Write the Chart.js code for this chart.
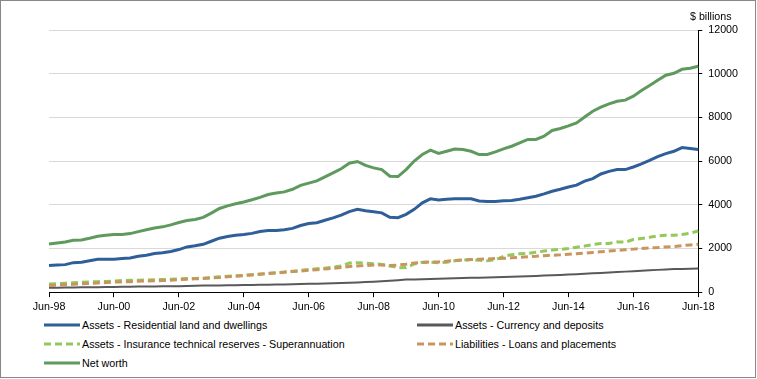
<!DOCTYPE html>
<html>
<head>
<meta charset="utf-8">
<script src="https://cdn.jsdelivr.net/npm/chart.js@4"></script>
<style>
  body { margin: 0; background: #fff; font-family: "Liberation Sans", Arial, sans-serif; }
  #frame { position: relative; width: 756px; height: 378px; border: 1px solid #878787; box-sizing: border-box; background: #fff; overflow: hidden; }
  #chartBox { position: absolute; left: -1px; top: -1px; width: 757px; height: 318px; }
  #units { position: absolute; left: 689px; top: 9px; font-size: 10.7px; color: #000; }
  #legend { position: absolute; left: 0; top: 317px; width: 756px; font-size: 10.7px; color: #000; }
  .item { position: absolute; height: 14px; line-height: 14px; white-space: nowrap; }
  .item svg { position: absolute; left: 0; top: 5px; }
  .item span { position: absolute; left: 38px; top: 0; }
</style>
</head>
<body>
<div id="frame">
  <div id="chartBox"><canvas id="wealthChart"></canvas></div>
  <div id="units">$ billions</div>
  <div id="legend"></div>
</div>
<script>
// quarterly, Jun-98 .. Jun-18 ($ billions)
const quarters = [];
const months = ['Mar', 'Jun', 'Sep', 'Dec'];
for (let yr = 1998; yr <= 2018; yr++) {
    months.forEach(function(m, q) {
        if ((yr === 1998 && q < 1) || (yr === 2018 && q > 1)) return;
        quarters.push(m + '-' + String(yr).slice(2));
    });
}

const residential = [
    1220, 1240, 1260, 1350, 1370, 1440, 1510, 1510, 1510, 1540,
    1560, 1640, 1690, 1770, 1800, 1860, 1950, 2070, 2120, 2190,
    2330, 2470, 2550, 2600, 2640, 2690, 2780, 2820, 2820, 2860,
    2920, 3050, 3140, 3180, 3290, 3400, 3530, 3690, 3790, 3730,
    3680, 3630, 3430, 3410, 3560, 3790, 4090, 4270, 4220, 4250,
    4270, 4270, 4270, 4170, 4150, 4150, 4180, 4200, 4250, 4320,
    4390, 4500, 4620, 4710, 4810, 4900, 5080, 5200, 5410, 5530,
    5610, 5610, 5730, 5870, 6030, 6200, 6340, 6450, 6620, 6580,
    6530
];
const currency = [
    200, 205, 210, 215, 220, 225, 230, 235, 240, 245,
    250, 255, 260, 262, 265, 270, 275, 280, 290, 300,
    305, 310, 315, 320, 325, 330, 335, 340, 345, 350,
    360, 370, 380, 390, 400, 410, 420, 430, 445, 460,
    475, 495, 520, 550, 575, 585, 595, 605, 615, 625,
    635, 645, 655, 665, 675, 685, 695, 705, 715, 730,
    745, 760, 775, 790, 805, 820, 840, 860, 880, 900,
    920, 940, 960, 980, 1000, 1020, 1040, 1055, 1065, 1075,
    1080
];
const superannuation = [
    370, 390, 410, 430, 450, 470, 480, 490, 510, 530,
    540, 550, 560, 570, 580, 590, 610, 620, 630, 640,
    670, 700, 730, 750, 770, 800, 830, 860, 890, 920,
    960, 1000, 1040, 1070, 1100, 1140, 1200, 1330, 1350, 1330,
    1300, 1270, 1200, 1120, 1130, 1290, 1370, 1370, 1350, 1370,
    1440, 1470, 1490, 1460, 1440, 1480, 1640, 1710, 1760, 1770,
    1830, 1880, 1930, 1960, 2000, 2060, 2110, 2180, 2230, 2230,
    2300, 2290, 2410, 2460, 2510, 2580, 2600, 2600, 2640, 2700,
    2800
];
const liabilities = [
    300, 320, 340, 360, 380, 400, 420, 440, 460, 470,
    480, 500, 510, 520, 530, 550, 570, 590, 610, 630,
    650, 670, 700, 730, 760, 790, 820, 850, 880, 910,
    940, 970, 1000, 1030, 1060, 1090, 1130, 1170, 1200, 1220,
    1240, 1240, 1220, 1240, 1280, 1330, 1360, 1380, 1380, 1420,
    1450, 1470, 1490, 1510, 1520, 1540, 1550, 1570, 1590, 1620,
    1640, 1670, 1690, 1710, 1740, 1760, 1790, 1820, 1850, 1880,
    1910, 1940, 1970, 2000, 2020, 2040, 2070, 2090, 2130, 2160,
    2190
];
const netWorth = [
    2200, 2250, 2300, 2380, 2390, 2470, 2560, 2600, 2640, 2640,
    2680, 2770, 2860, 2940, 2990, 3080, 3190, 3280, 3330, 3420,
    3620, 3830, 3950, 4050, 4130, 4230, 4340, 4470, 4540, 4590,
    4710, 4890, 4990, 5090, 5280, 5460, 5650, 5900, 5980, 5800,
    5690, 5610, 5310, 5290, 5610, 6000, 6300, 6500, 6350, 6450,
    6550, 6530, 6450, 6300, 6300, 6420, 6560, 6680, 6830, 6990,
    6990, 7140, 7400, 7490, 7610, 7750, 8020, 8280, 8470, 8620,
    8740, 8790, 8970, 9230, 9460, 9700, 9930, 10020, 10200, 10250,
    10340
];
const yTicks = [0, 2000, 4000, 6000, 8000, 10000, 12000];

const seriesNames = [
    'Assets - Residential land and dwellings',
    'Assets - Currency and deposits',
    'Assets - Insurance technical reserves - Superannuation',
    'Liabilities - Loans and placements',
    'Net worth'
];
const seriesColors = ['#2f5f98', '#595959', '#92c95a', '#c9955e', '#5e9a5e'];
const seriesWidths = [3, 2, 3, 3, 3];
const seriesDash = [[], [], [7, 4], [7, 4], []];
const seriesData = [residential, currency, superannuation, liabilities, netWorth];
const drawOrder = [3, 3, 2, 1, 0];

const FONT = { family: '"Liberation Sans", Arial, sans-serif', size: 10.7 };

const datasets = seriesNames.map(function(name, i) {
    return {
        label: name,
        data: seriesData[i],
        borderColor: seriesColors[i],
        backgroundColor: seriesColors[i],
        borderWidth: seriesWidths[i],
        borderDash: seriesDash[i],
        pointRadius: 0,
        tension: 0,
        fill: false,
        order: drawOrder[i]
    };
});

const ctx = document.getElementById('wealthChart').getContext('2d');
new Chart(ctx, {
    type: 'line',
    data: { labels: quarters, datasets: datasets },
    options: {
        responsive: true,
        maintainAspectRatio: false,
        animation: false,
        layout: { padding: { left: 49, right: 13, top: 30, bottom: 2 } },
        plugins: { legend: { display: false }, tooltip: { enabled: false } },
        scales: {
            x: {
                type: 'category',
                offset: false,
                grid: {
                    drawOnChartArea: false,
                    tickLength: 5,
                    tickColor: function(c) { return c.index % 8 === 0 ? '#000' : 'rgba(0,0,0,0)'; }
                },
                border: { color: '#000', width: 1 },
                ticks: {
                    autoSkip: false,
                    maxRotation: 0,
                    minRotation: 0,
                    padding: 3,
                    color: '#000',
                    font: FONT,
                    callback: function(v, i) { return i % 8 === 0 ? quarters[i] : ''; }
                }
            },
            y: {
                position: 'right',
                min: yTicks[0],
                max: yTicks[yTicks.length - 1],
                afterBuildTicks: function(axis) { axis.ticks = yTicks.map(function(v) { return { value: v }; }); },
                grid: { color: '#d9d9d9', lineWidth: 1, tickLength: 4, tickColor: '#000' },
                border: { color: '#000', width: 1 },
                ticks: {
                    padding: 6,
                    color: '#000',
                    font: FONT,
                    callback: function(v) { return String(v); }
                }
            }
        }
    }
});

// legend, two columns
const legendPos = [[43, 0], [416, 0], [43, 19], [416, 19], [43, 38]];
const legendEl = document.getElementById('legend');
seriesNames.forEach(function(name, i) {
    const item = document.createElement('div');
    item.className = 'item';
    item.style.left = legendPos[i][0] + 'px';
    item.style.top = legendPos[i][1] + 'px';
    const dash = seriesDash[i].length ? ' stroke-dasharray="7 4"' : '';
    item.innerHTML = '<svg width="36" height="4"><line x1="0" y1="2" x2="36" y2="2" stroke="' +
        seriesColors[i] + '" stroke-width="3"' + dash + '/></svg><span>' + name + '</span>';
    legendEl.appendChild(item);
});
</script>
</body>
</html>
